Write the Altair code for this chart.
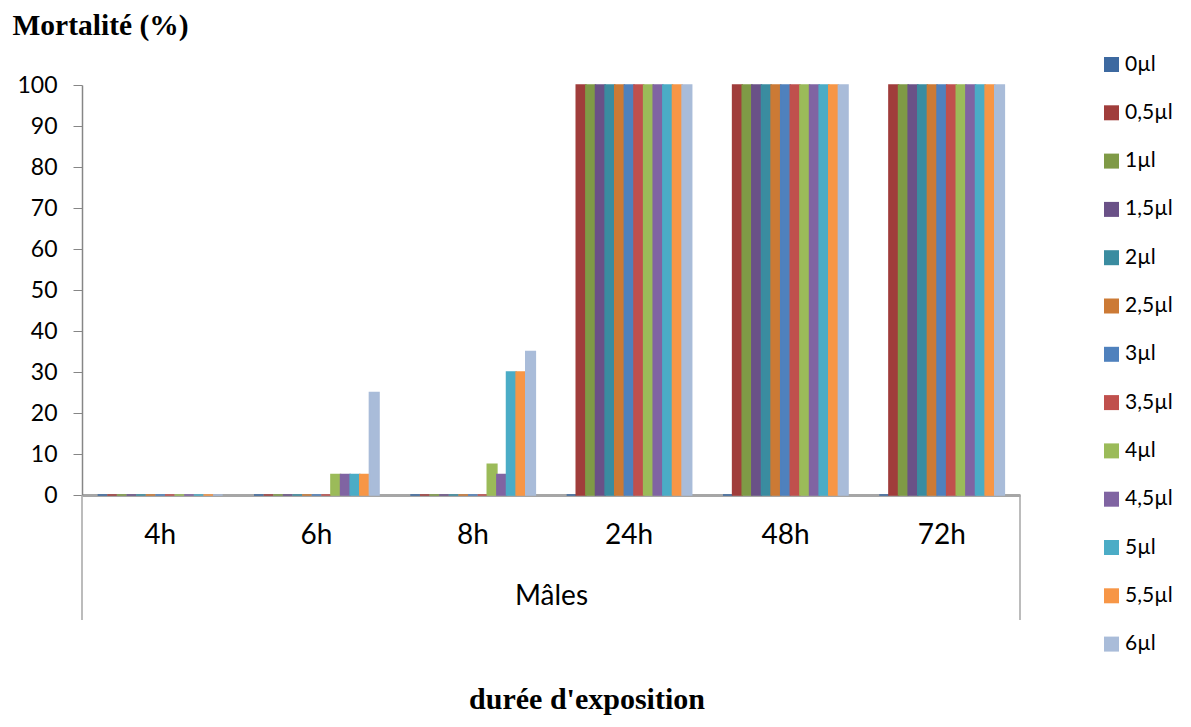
import altair as alt
import pandas as pd

durations = ["4h", "6h", "8h", "24h", "48h", "72h"]
doses = ["0µl", "0,5µl", "1µl", "1,5µl", "2µl", "2,5µl", "3µl",
         "3,5µl", "4µl", "4,5µl", "5µl", "5,5µl", "6µl"]
colors = ["#3D69A0", "#A03D3B", "#7F9A46", "#6A5187", "#3A8CA0", "#CC7A35",
          "#4F81BD", "#C0504D", "#9BBB59", "#8064A2", "#4BACC6", "#F79646",
          "#A9BCD9"]

v_4h = [0, 0, 0, 0, 0, 0, 0, 0, 0, 0, 0, 0, 0]
v_6h = [0, 0, 0, 0, 0, 0, 0, 0, 5, 5, 5, 5, 25]
v_8h = [0, 0, 0, 0, 0, 0, 0, 0, 7.5, 5, 30, 30, 35]
v_24h = [0, 100, 100, 100, 100, 100, 100, 100, 100, 100, 100, 100, 100]
v_48h = [0, 100, 100, 100, 100, 100, 100, 100, 100, 100, 100, 100, 100]
v_72h = [0, 100, 100, 100, 100, 100, 100, 100, 100, 100, 100, 100, 100]
y_ticks = [0, 10, 20, 30, 40, 50, 60, 70, 80, 90, 100]

rows = []
for d, vals in zip(durations, [v_4h, v_6h, v_8h, v_24h, v_48h, v_72h]):
    for dose, v in zip(doses, vals):
        rows.append({"duree": d, "dose": dose, "val": v})
df = pd.DataFrame(rows)
one = pd.DataFrame({"k": [0]})

W, H = 938, 410
FONT = "Lato"

color_scale = alt.Scale(domain=doses, range=colors)

bars = alt.Chart(df).mark_bar(strokeWidth=1.5).encode(
    x=alt.X("duree:N", sort=durations,
            scale=alt.Scale(paddingInner=0.2, paddingOuter=0.1),
            axis=alt.Axis(title="Mâles", labelAngle=0, ticks=False,
                          labelFont=FONT, labelFontSize=28, labelColor="black",
                          labelPadding=26, titleFont=FONT, titleFontSize=28,
                          titleFontWeight="normal", titleColor="black",
                          titlePadding=33, domainColor="#A6A6A6",
                          domainWidth=3)),
    xOffset=alt.XOffset("dose:N", sort=doses,
                        scale=alt.Scale(paddingInner=0, paddingOuter=0)),
    y=alt.Y("val:Q", scale=alt.Scale(domain=[0, 100], nice=False),
            axis=alt.Axis(values=y_ticks, grid=False, title="Mortalité (%)",
                          titleAngle=0, titleAlign="left",
                          titleBaseline="alphabetic",
                          titleX=-70, titleY=-51, titleFont="Liberation Serif",
                          titleFontSize=29.5, titleFontWeight="bold",
                          titleColor="black", labelFont=FONT, labelFontSize=23,
                          labelColor="black", labelPadding=16, tickSize=9,
                          tickColor="#868686", domainColor="#868686",
                          domainWidth=1.5)),
    color=alt.Color("dose:N", sort=doses, scale=color_scale,
                    legend=alt.Legend(title=None, orient="none", legendX=1019,
                                      legendY=-31, symbolType="square",
                                      symbolSize=225, symbolStrokeWidth=0,
                                      labelFont=FONT, labelFontSize=21,
                                      labelColor="black", rowPadding=26.3,
                                      labelOffset=3)),
    stroke=alt.Stroke("dose:N", sort=doses, scale=color_scale, legend=None),
)

sep_left = alt.Chart(one).mark_rule(color="#A6A6A6", strokeWidth=1.5).encode(
    x=alt.value(0), y=alt.value(H), y2=alt.value(H + 125))
sep_right = alt.Chart(one).mark_rule(color="#A6A6A6", strokeWidth=1.5).encode(
    x=alt.value(W), y=alt.value(H), y2=alt.value(H + 125))

xlabel = alt.Chart(one).mark_text(font="Liberation Serif", fontSize=30,
                                  fontWeight="bold", color="black",
                                  baseline="alphabetic").encode(
    x=alt.value(505), y=alt.value(624), text=alt.value("durée d'exposition"))

chart = alt.layer(bars, sep_left, sep_right, xlabel).properties(
    width=W, height=H,
    autosize=alt.AutoSizeParams(type="none"),
    padding={"left": 74, "top": 77, "right": 160, "bottom": 222},
).configure_view(stroke=None)

chart.save("out.html", embed_options={"renderer": "svg", "actions": False})
